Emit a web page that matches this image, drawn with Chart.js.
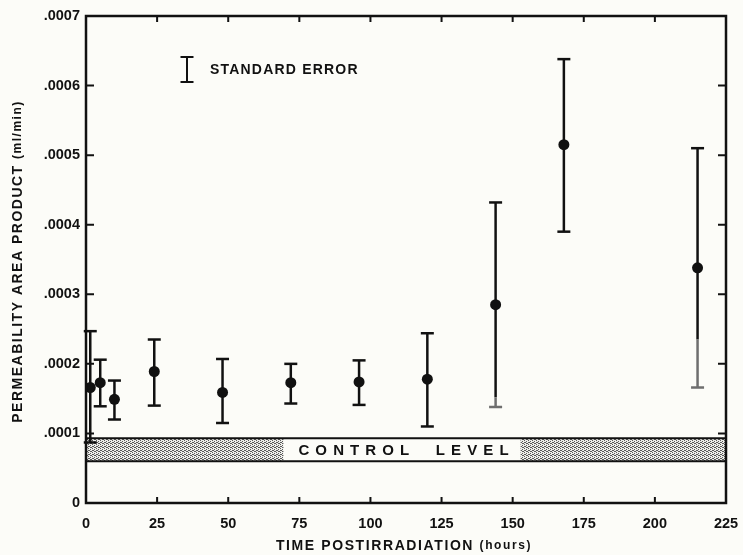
<!DOCTYPE html>
<html>
<head>
<meta charset="utf-8">
<script src="https://cdn.jsdelivr.net/npm/chart.js@4.4.0/dist/chart.umd.min.js"></script>
<style>
  html, body { margin: 0; padding: 0; background: #fcfcf8; }
  #wrap { width: 743px; height: 555px; }
</style>
</head>
<body>
<div id="wrap"><canvas id="permChart" width="743" height="555"></canvas></div>
<script>
// hours after irradiation, mean PA product and the standard error range
const hours = [1.5, 5, 10, 24, 48, 72, 96, 120, 144, 168, 215];
const meanValues = [0.000166, 0.000173, 0.000149, 0.000189, 0.000159, 0.000173, 0.000174, 0.000178, 0.000285, 0.000515, 0.000338];
const errorHigh = [0.000247, 0.000206, 0.000176, 0.000235, 0.000207, 0.0002, 0.000205, 0.000244, 0.000432, 0.000638, 0.00051];
const errorLow = [0.000087, 0.000139, 0.00012, 0.00014, 0.000115, 0.000143, 0.000141, 0.00011, 0.000138, 0.00039, 0.000166];
// below this value the printed bar is faded in the original
const fadedBelow = [null, null, null, null, null, null, null, null, 0.000152, null, 0.000235];
const controlLevel = [0.00006, 0.000093];
const xTicks = [0, 25, 50, 75, 100, 125, 150, 175, 200, 225];
const yTicks = [0, 0.0001, 0.0002, 0.0003, 0.0004, 0.0005, 0.0006, 0.0007];

const INK = "#111111";
const FAMILY = "'Liberation Sans', Arial, sans-serif";

function makeStipple(ctx) {
  const c = document.createElement("canvas");
  c.width = 4;
  c.height = 4;
  const p = c.getContext("2d");
  p.fillStyle = "#eeeeea";
  p.fillRect(0, 0, 4, 4);
  p.fillStyle = "#5a5a5a";
  [[0, 0], [2, 1], [1, 2], [3, 3], [2, 3], [0, 2]].forEach(([a, b]) => p.fillRect(a, b, 1, 1));
  return ctx.createPattern(c, "repeat");
}

// centred run of text pieces with letter spacing
function spacedText(ctx, parts, x, y, spacing) {
  let total = 0;
  ctx.letterSpacing = spacing + "px";
  parts.forEach((p) => {
    ctx.font = p.font;
    total += ctx.measureText(p.text).width;
  });
  let cx = x - total / 2;
  parts.forEach((p) => {
    ctx.font = p.font;
    ctx.fillText(p.text, cx, y);
    cx += ctx.measureText(p.text).width;
  });
  ctx.letterSpacing = "0px";
}

function errorBar(ctx, px, hi, lo, color) {
  ctx.strokeStyle = color;
  ctx.beginPath();
  ctx.moveTo(px, hi);
  ctx.lineTo(px, lo);
  ctx.stroke();
}

function cap(ctx, px, py, color) {
  ctx.strokeStyle = color;
  ctx.beginPath();
  ctx.moveTo(px - 6.5, py);
  ctx.lineTo(px + 6.5, py);
  ctx.stroke();
}

const paperPlugin = {
  id: "paper",
  beforeDatasetsDraw(chart) {
    const { ctx, chartArea, scales } = chart;
    const x = scales.x, y = scales.y;
    ctx.save();

    // control level band
    const bandTop = y.getPixelForValue(controlLevel[1]);
    const bandBot = y.getPixelForValue(controlLevel[0]);
    ctx.fillStyle = makeStipple(ctx);
    ctx.fillRect(chartArea.left, bandTop, chartArea.right - chartArea.left, bandBot - bandTop);

    ctx.font = "bold 15px " + FAMILY;
    ctx.letterSpacing = "6.1px";
    const label = "CONTROL  LEVEL";
    const w = ctx.measureText(label).width - 6.1;
    const tx = (chartArea.left + chartArea.right) / 2 - 2.5 - w / 2;
    ctx.fillStyle = "#fcfcf8";
    ctx.fillRect(tx - 15, bandTop, w + 27, bandBot - bandTop);
    ctx.fillStyle = INK;
    ctx.textBaseline = "middle";
    ctx.textAlign = "left";
    ctx.fillText(label, tx, (bandTop + bandBot) / 2 + 1);
    ctx.letterSpacing = "0px";

    ctx.strokeStyle = INK;
    ctx.lineWidth = 2;
    ctx.beginPath();
    ctx.moveTo(chartArea.left, bandTop);
    ctx.lineTo(chartArea.right, bandTop);
    ctx.moveTo(chartArea.left, bandBot);
    ctx.lineTo(chartArea.right, bandBot);
    ctx.stroke();

    // error bars
    ctx.lineWidth = 2.5;
    hours.forEach((h, i) => {
      const px = x.getPixelForValue(h);
      const hi = y.getPixelForValue(errorHigh[i]);
      const lo = y.getPixelForValue(errorLow[i]);
      if (fadedBelow[i] !== null) {
        const mid = y.getPixelForValue(fadedBelow[i]);
        errorBar(ctx, px, hi, mid, INK);
        errorBar(ctx, px, mid, lo, "#6e6e6e");
        cap(ctx, px, hi, INK);
        cap(ctx, px, lo, "#6e6e6e");
      } else {
        errorBar(ctx, px, hi, lo, INK);
        cap(ctx, px, hi, INK);
        cap(ctx, px, lo, INK);
      }
    });

    // standard error key
    const kx = chartArea.left + 101, ky = chartArea.top + 41;
    ctx.lineWidth = 2;
    errorBar(ctx, kx, ky, ky + 25, INK);
    cap(ctx, kx, ky, INK);
    cap(ctx, kx, ky + 25, INK);
    ctx.font = "bold 14px " + FAMILY;
    ctx.letterSpacing = "1.2px";
    ctx.fillText("STANDARD ERROR", kx + 23, ky + 13.5);
    ctx.letterSpacing = "0px";
    ctx.restore();
  },
  afterDraw(chart) {
    const { ctx, chartArea, scales } = chart;
    const x = scales.x, y = scales.y;
    const { left, right, top, bottom } = chartArea;
    ctx.save();
    ctx.strokeStyle = INK;
    ctx.lineWidth = 2.5;
    ctx.strokeRect(left, top, right - left, bottom - top);

    ctx.lineWidth = 2;
    ctx.beginPath();
    x.ticks.forEach((t) => {
      if (t.value <= x.min || t.value >= x.max) return;
      const px = x.getPixelForValue(t.value);
      ctx.moveTo(px, bottom);
      ctx.lineTo(px, bottom - 6);
      ctx.moveTo(px, top);
      ctx.lineTo(px, top + 6);
    });
    y.ticks.forEach((t) => {
      if (t.value <= y.min || t.value >= y.max) return;
      const py = y.getPixelForValue(t.value);
      ctx.moveTo(left, py);
      ctx.lineTo(left + 8, py);
      ctx.moveTo(right, py);
      ctx.lineTo(right - 8, py);
    });
    ctx.stroke();

    // axis titles
    ctx.fillStyle = INK;
    ctx.textBaseline = "middle";
    ctx.textAlign = "left";
    spacedText(ctx, [
      { text: "TIME POSTIRRADIATION ", font: "bold 14px " + FAMILY },
      { text: "(hours)", font: "bold 12px " + FAMILY },
    ], (left + right) / 2 - 2, 546, 1.6);

    ctx.translate(18, (top + bottom) / 2 + 2);
    ctx.rotate(-Math.PI / 2);
    spacedText(ctx, [
      { text: "PERMEABILITY AREA PRODUCT ", font: "bold 14px " + FAMILY },
      { text: "(ml/min)", font: "bold 12px " + FAMILY },
    ], 0, 0, 1.5);
    ctx.restore();
  },
};

const tickFont = { family: FAMILY, size: 14.5, weight: "bold" };

const ctx = document.getElementById("permChart").getContext("2d");
const permChart = new Chart(ctx, {
  type: "scatter",
  data: {
    datasets: [
      {
        label: "Permeability area product",
        data: hours.map((h, i) => ({ x: h, y: meanValues[i] })),
        pointRadius: 5.5,
        pointHoverRadius: 5.5,
        backgroundColor: INK,
        borderColor: INK,
        borderWidth: 0,
      },
    ],
  },
  options: {
    responsive: false,
    animation: false,
    events: [],
    layout: { padding: { top: 16, right: 17, left: 0, bottom: 0 } },
    plugins: { legend: { display: false }, tooltip: { enabled: false } },
    scales: {
      x: {
        type: "linear",
        min: 0,
        max: 225,
        afterBuildTicks: (s) => { s.ticks = xTicks.map((v) => ({ value: v })); },
        afterFit: (s) => {
          s.height = 52;
          s.paddingLeft = 0;
          s.paddingRight = 0;
        },
        grid: { display: false, drawTicks: false },
        border: { display: false },
        ticks: { padding: 12, color: INK, font: tickFont, maxRotation: 0 },
      },
      y: {
        min: 0,
        max: 0.0007,
        afterBuildTicks: (s) => { s.ticks = yTicks.map((v) => ({ value: v })); },
        afterFit: (s) => { s.width = 86; },
        grid: { display: false, drawTicks: false },
        border: { display: false },
        ticks: {
          padding: 6,
          color: INK,
          font: tickFont,
          callback: (v) => (v === 0 ? "0" : "." + String(Math.round(v * 10000)).padStart(4, "0")),
        },
      },
    },
  },
  plugins: [paperPlugin],
});
</script>
</body>
</html>
